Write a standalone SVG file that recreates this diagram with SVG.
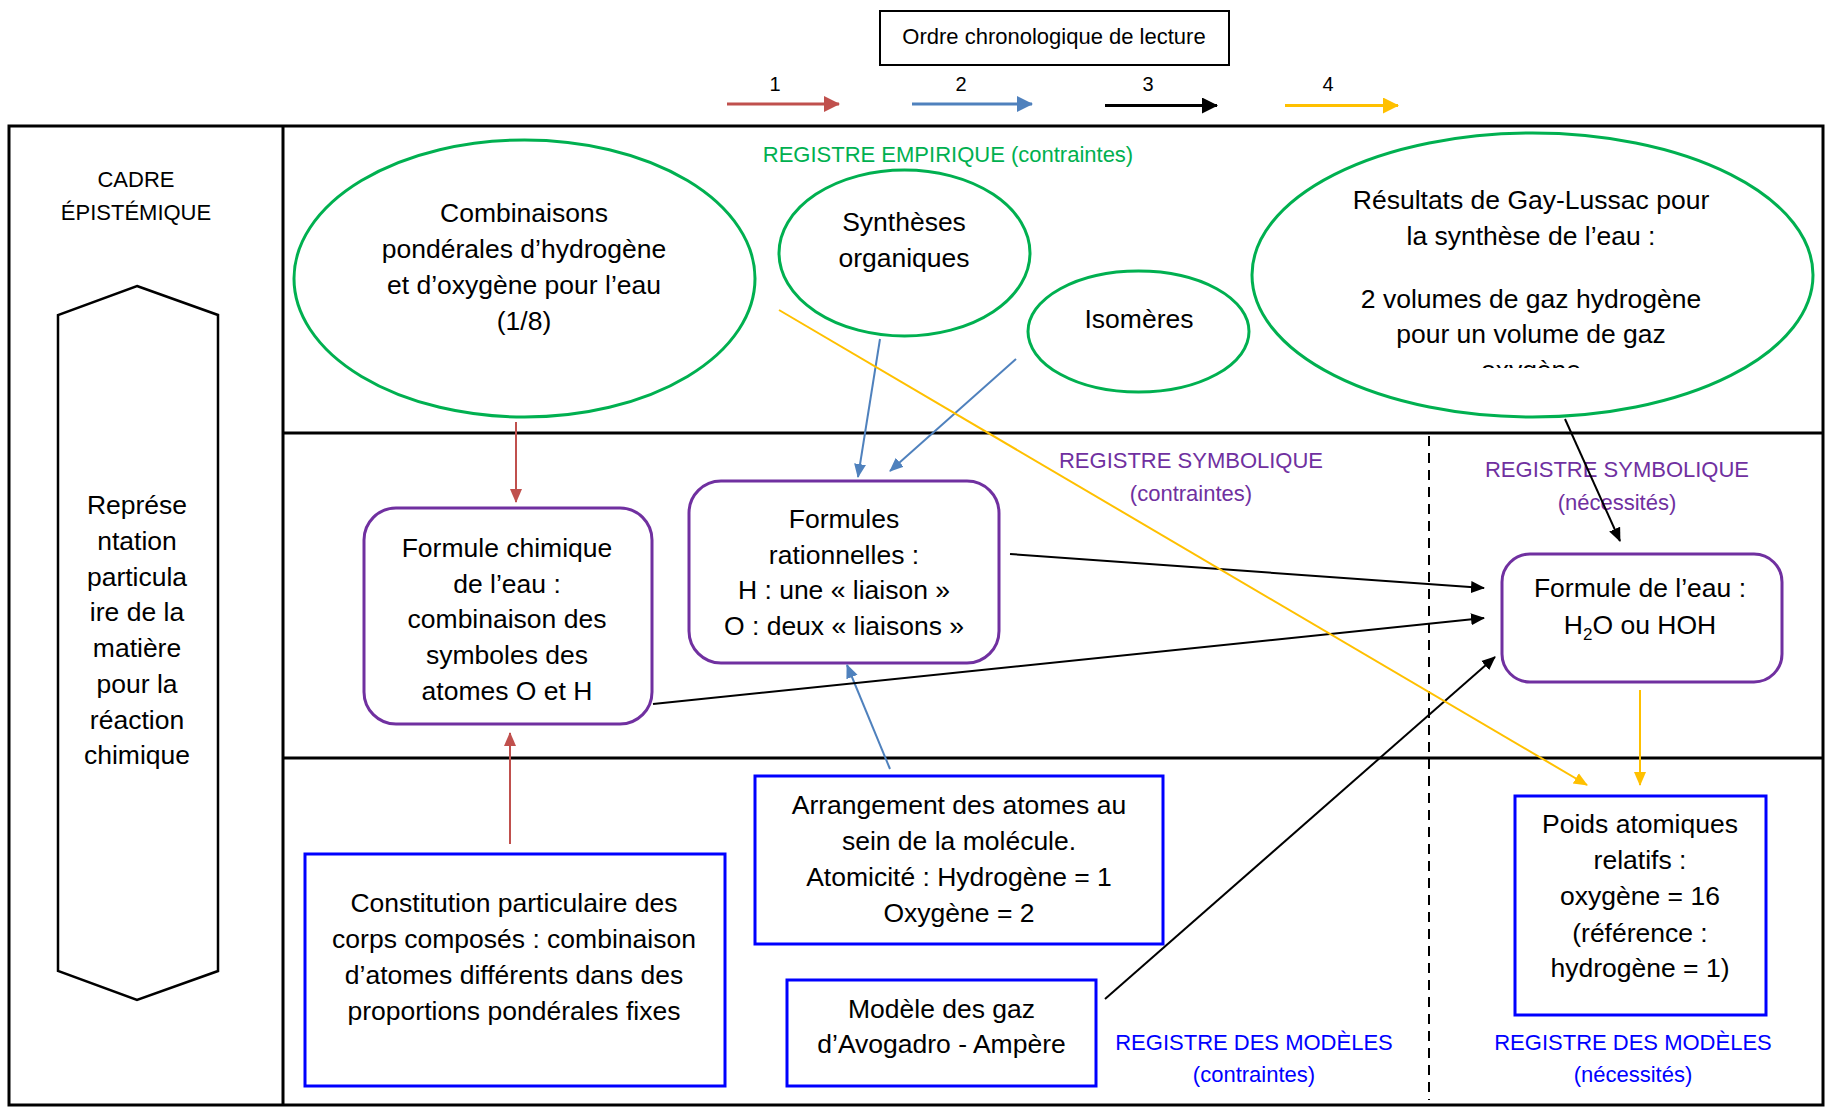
<svg xmlns="http://www.w3.org/2000/svg" width="1825" height="1107" viewBox="0 0 1825 1107">
<style>
text{font-family:"Liberation Sans",Arial,sans-serif;text-anchor:middle;fill:#000}
.t{font-size:26.5px}
.s{font-size:22px}
.n{font-size:20px}
.g{fill:#00B050}.p{fill:#7030A0}.b{fill:#0000FF}
.ell{fill:#fff;stroke:#00B050;stroke-width:3}
.rr{fill:#fff;stroke:#7030A0;stroke-width:3}
.bx{fill:#fff;stroke:#0000FF;stroke-width:3}
.frame{fill:none;stroke:#000;stroke-width:3}
.c{fill:none;stroke-width:2}
.lg{fill:none;stroke-width:3}
</style>
<defs>
<marker id="mr" viewBox="0 0 14 14" refX="13" refY="7" markerWidth="14" markerHeight="14" markerUnits="userSpaceOnUse" orient="auto"><path d="M0,1 L14,7 L0,13 z" fill="#C0504D"/></marker>
<marker id="mb" viewBox="0 0 14 14" refX="13" refY="7" markerWidth="14" markerHeight="14" markerUnits="userSpaceOnUse" orient="auto"><path d="M0,1 L14,7 L0,13 z" fill="#4F81BD"/></marker>
<marker id="mk" viewBox="0 0 14 14" refX="13" refY="7" markerWidth="14" markerHeight="14" markerUnits="userSpaceOnUse" orient="auto"><path d="M0,1 L14,7 L0,13 z" fill="#000"/></marker>
<marker id="my" viewBox="0 0 14 14" refX="13" refY="7" markerWidth="14" markerHeight="14" markerUnits="userSpaceOnUse" orient="auto"><path d="M0,1 L14,7 L0,13 z" fill="#FFC000"/></marker>
<marker id="Lr" viewBox="0 0 16 16" refX="15" refY="8" markerWidth="16" markerHeight="16" markerUnits="userSpaceOnUse" orient="auto"><path d="M0,0 L16,8 L0,16 z" fill="#C0504D"/></marker>
<marker id="Lb" viewBox="0 0 16 16" refX="15" refY="8" markerWidth="16" markerHeight="16" markerUnits="userSpaceOnUse" orient="auto"><path d="M0,0 L16,8 L0,16 z" fill="#4F81BD"/></marker>
<marker id="Lk" viewBox="0 0 16 16" refX="15" refY="8" markerWidth="16" markerHeight="16" markerUnits="userSpaceOnUse" orient="auto"><path d="M0,0 L16,8 L0,16 z" fill="#000"/></marker>
<marker id="Ly" viewBox="0 0 16 16" refX="15" refY="8" markerWidth="16" markerHeight="16" markerUnits="userSpaceOnUse" orient="auto"><path d="M0,0 L16,8 L0,16 z" fill="#FFC000"/></marker>
<clipPath id="clipGL"><rect x="1250" y="130" width="570" height="238"/></clipPath>
</defs>

<g id="legend">
<rect x="880" y="11" width="349" height="54" fill="#fff" stroke="#000" stroke-width="2"/>
<text class="s" x="1054" y="44">Ordre chronologique de lecture</text>
<text class="n" x="775" y="91">1</text>
<text class="n" x="961" y="91">2</text>
<text class="n" x="1148" y="91">3</text>
<text class="n" x="1328" y="91">4</text>
<line class="lg" x1="727" y1="104" x2="839" y2="104" stroke="#C0504D" marker-end="url(#Lr)"/>
<line class="lg" x1="912" y1="104" x2="1032" y2="104" stroke="#4F81BD" marker-end="url(#Lb)"/>
<line class="lg" x1="1105" y1="105.5" x2="1217" y2="105.5" stroke="#000" marker-end="url(#Lk)"/>
<line class="lg" x1="1285" y1="105.5" x2="1398" y2="105.5" stroke="#FFC000" marker-end="url(#Ly)"/>
</g>

<g id="frame">
<rect class="frame" x="9" y="126" width="1814" height="979"/>
<line class="frame" x1="283" y1="126" x2="283" y2="1105"/>
<line class="frame" x1="283" y1="433" x2="1823" y2="433"/>
<line class="frame" x1="283" y1="758" x2="1823" y2="758"/>
<line x1="1429" y1="436" x2="1429" y2="1100" stroke="#000" stroke-width="2" stroke-dasharray="10,7"/>
</g>

<g id="cadre">
<text class="s" x="136" y="187">CADRE</text>
<text class="s" x="136" y="220">ÉPISTÉMIQUE</text>
<path d="M137,286 L218,315 L218,971 L137,1000 L58,971 L58,315 Z" fill="#fff" stroke="#000" stroke-width="2.5"/>
<text class="t" x="137" y="514">Représe</text>
<text class="t" x="137" y="550">ntation</text>
<text class="t" x="137" y="585.5">particula</text>
<text class="t" x="137" y="621">ire de la</text>
<text class="t" x="137" y="657">matière</text>
<text class="t" x="137" y="693">pour la</text>
<text class="t" x="137" y="728.5">réaction</text>
<text class="t" x="137" y="764">chimique</text>
</g>

<g id="register-labels">
<text class="s g" x="948" y="162">REGISTRE EMPIRIQUE (contraintes)</text>
<text class="s p" x="1191" y="468">REGISTRE SYMBOLIQUE</text>
<text class="s p" x="1191" y="501">(contraintes)</text>
<text class="s p" x="1617" y="477">REGISTRE SYMBOLIQUE</text>
<text class="s p" x="1617" y="510">(nécessités)</text>
<text class="s b" x="1254" y="1050">REGISTRE DES MODÈLES</text>
<text class="s b" x="1254" y="1082">(contraintes)</text>
<text class="s b" x="1633" y="1050">REGISTRE DES MODÈLES</text>
<text class="s b" x="1633" y="1082">(nécessités)</text>
</g>

<g id="combinaisons">
<ellipse class="ell" cx="524.5" cy="278.5" rx="230.5" ry="138.5"/>
<text class="t" x="524" y="222">Combinaisons</text>
<text class="t" x="524" y="258">pondérales d’hydrogène</text>
<text class="t" x="524" y="294">et d’oxygène pour l’eau</text>
<text class="t" x="524" y="330">(1/8)</text>
</g>

<g id="syntheses">
<ellipse class="ell" cx="904.5" cy="253" rx="125.5" ry="83"/>
<text class="t" x="904" y="231">Synthèses</text>
<text class="t" x="904" y="267">organiques</text>
</g>

<g id="isomeres">
<ellipse class="ell" cx="1138.5" cy="331.5" rx="110.5" ry="60.5"/>
<text class="t" x="1139" y="328">Isomères</text>
</g>

<g id="gay-lussac">
<ellipse class="ell" cx="1532.5" cy="275" rx="280.5" ry="142"/>
<text class="t" x="1531" y="209">Résultats de Gay-Lussac pour</text>
<text class="t" x="1531" y="245">la synthèse de l’eau :</text>
<text class="t" x="1531" y="308">2 volumes de gaz hydrogène</text>
<text class="t" x="1531" y="343">pour un volume de gaz</text>
<text class="t" x="1531" y="379" clip-path="url(#clipGL)">oxygène</text>
</g>

<g id="formule-chimique">
<rect class="rr" x="364" y="508" width="288" height="216" rx="32"/>
<text class="t" x="507" y="557">Formule chimique</text>
<text class="t" x="507" y="593">de l’eau :</text>
<text class="t" x="507" y="628">combinaison des</text>
<text class="t" x="507" y="664">symboles des</text>
<text class="t" x="507" y="700">atomes O et H</text>
</g>

<g id="formules-rationnelles">
<rect class="rr" x="689" y="481" width="310" height="182" rx="32"/>
<text class="t" x="844" y="528">Formules</text>
<text class="t" x="844" y="564">rationnelles :</text>
<text class="t" x="844" y="599">H : une « liaison »</text>
<text class="t" x="844" y="635">O : deux « liaisons »</text>
</g>

<g id="formule-eau">
<rect class="rr" x="1502" y="554" width="280" height="128" rx="28"/>
<text class="t" x="1640" y="597">Formule de l’eau :</text>
<text class="t" x="1640" y="634">H<tspan font-size="17" dy="6">2</tspan><tspan dy="-6">O ou HOH</tspan></text>
</g>

<g id="constitution">
<rect class="bx" x="305" y="854" width="420" height="232"/>
<text class="t" x="514" y="912">Constitution particulaire des</text>
<text class="t" x="514" y="948">corps composés : combinaison</text>
<text class="t" x="514" y="984">d’atomes différents dans des</text>
<text class="t" x="514" y="1019.5">proportions pondérales fixes</text>
</g>

<g id="arrangement">
<rect class="bx" x="755" y="776" width="408" height="168"/>
<text class="t" x="959" y="814">Arrangement des atomes au</text>
<text class="t" x="959" y="850">sein de la molécule.</text>
<text class="t" x="959" y="886">Atomicité : Hydrogène = 1</text>
<text class="t" x="959" y="922">Oxygène = 2</text>
</g>

<g id="avogadro">
<rect class="bx" x="787" y="980" width="309" height="106"/>
<text class="t" x="941.5" y="1018">Modèle des gaz</text>
<text class="t" x="941.5" y="1053">d’Avogadro - Ampère</text>
</g>

<g id="poids">
<rect class="bx" x="1515" y="796" width="251" height="219"/>
<text class="t" x="1640" y="833">Poids atomiques</text>
<text class="t" x="1640" y="869">relatifs :</text>
<text class="t" x="1640" y="905">oxygène = 16</text>
<text class="t" x="1640" y="941.5">(référence :</text>
<text class="t" x="1640" y="976.5">hydrogène = 1)</text>
</g>

<g id="connectors">
<line class="c" x1="516" y1="422" x2="516" y2="502" stroke="#C0504D" marker-end="url(#mr)"/>
<line class="c" x1="510" y1="844" x2="510" y2="733" stroke="#C0504D" marker-end="url(#mr)"/>
<line class="c" x1="880" y1="339" x2="858" y2="477" stroke="#4F81BD" marker-end="url(#mb)"/>
<line class="c" x1="1016" y1="359" x2="890" y2="471" stroke="#4F81BD" marker-end="url(#mb)"/>
<line class="c" x1="890" y1="769" x2="847" y2="665" stroke="#4F81BD" marker-end="url(#mb)"/>
<line class="c" x1="1010" y1="554" x2="1484" y2="588" stroke="#000" marker-end="url(#mk)"/>
<line class="c" x1="653" y1="704" x2="1484" y2="618" stroke="#000" marker-end="url(#mk)"/>
<line class="c" x1="1105" y1="999" x2="1495" y2="657" stroke="#000" marker-end="url(#mk)"/>
<line class="c" x1="1565" y1="419" x2="1620" y2="541" stroke="#000" marker-end="url(#mk)"/>
<line class="c" x1="779" y1="310" x2="1587" y2="785" stroke="#FFC000" marker-end="url(#my)"/>
<line class="c" x1="1640" y1="690" x2="1640" y2="785" stroke="#FFC000" marker-end="url(#my)"/>
</g>
</svg>
